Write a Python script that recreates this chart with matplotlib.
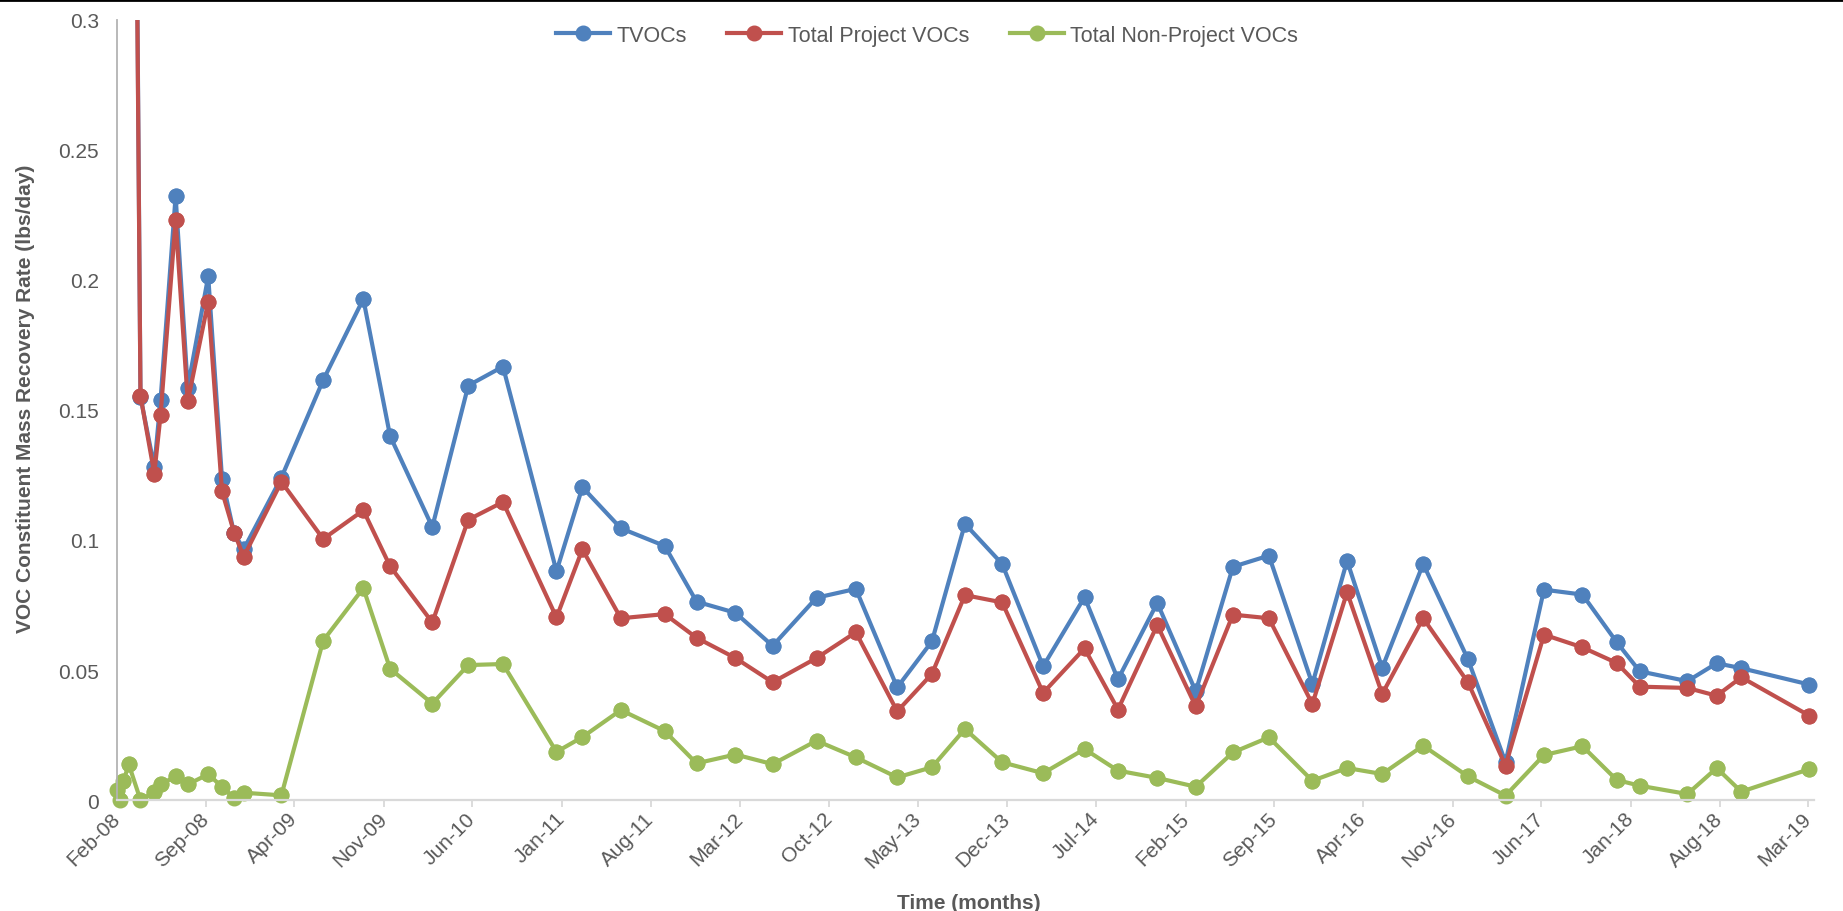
import numpy as np
import pandas as pd
import matplotlib
matplotlib.use('Agg')
import matplotlib.pyplot as plt
import matplotlib.dates as mdates
from matplotlib.lines import Line2D

plt.rcParams['font.family'] = ['Liberation Sans', 'DejaVu Sans']

# sample dates
DATES = [
    '2008-02-01', '2008-02-09', '2008-02-17', '2008-03-01', '2008-03-29',
    '2008-05-01', '2008-05-16', '2008-06-21', '2008-07-20', '2008-09-07',
    '2008-10-10', '2008-11-08', '2008-12-01', '2009-03-01', '2009-06-09',
    '2009-09-13', '2009-11-16', '2010-02-25', '2010-05-22', '2010-08-13',
    '2010-12-19', '2011-02-19', '2011-05-22', '2011-09-04', '2011-11-19',
    '2012-02-20', '2012-05-19', '2012-09-01', '2012-12-04', '2013-03-13',
    '2013-06-04', '2013-08-22', '2013-11-19', '2014-02-25', '2014-06-04',
    '2014-08-23', '2014-11-25', '2015-02-25', '2015-05-25', '2015-08-19',
    '2015-12-01', '2016-02-22', '2016-05-16', '2016-08-22', '2016-12-07',
    '2017-03-07', '2017-06-07', '2017-09-07', '2017-11-28', '2018-01-22',
    '2018-05-16', '2018-07-25', '2018-09-22', '2019-03-04',
]

# lbs/day, nan = above the visible range and not readable
TVOCS = [
    np.nan, np.nan, np.nan, 0.72, 0.155,
    0.128, 0.1539, 0.2323, 0.1586, 0.2014,
    0.1235, 0.1025, 0.0965, 0.124, 0.1615,
    0.1927, 0.140, 0.105, 0.1594, 0.1667,
    0.088, 0.1203, 0.1045, 0.0977, 0.0763,
    0.072, 0.0593, 0.0778, 0.0812, 0.0433,
    0.061, 0.1062, 0.0908, 0.0514, 0.078,
    0.0464, 0.0758, 0.0418, 0.0897, 0.094,
    0.0446, 0.092, 0.0508, 0.0908, 0.0542,
    0.0145, 0.0809, 0.079, 0.0607, 0.0495,
    0.0457, 0.0526, 0.0507, 0.0444,
]

PROJECT = [
    np.nan, np.nan, np.nan, 0.70, 0.1555,
    0.1255, 0.148, 0.2232, 0.1533, 0.1917,
    0.1187, 0.1028, 0.0936, 0.1224, 0.1004,
    0.1114, 0.0899, 0.0683, 0.1078, 0.1146,
    0.0702, 0.0964, 0.0699, 0.0715, 0.0624,
    0.0546, 0.0453, 0.0546, 0.0645, 0.0341,
    0.0485, 0.0788, 0.076, 0.0412, 0.0583,
    0.0348, 0.0673, 0.036, 0.0713, 0.0699,
    0.0369, 0.0799, 0.0408, 0.0699, 0.0453,
    0.0132, 0.0636, 0.0587, 0.0527, 0.0436,
    0.0431, 0.0401, 0.0472, 0.0324,
]

NON_PROJECT = [
    0.0039, 0.0, 0.0072, 0.0137, 0.0,
    0.0031, 0.006, 0.0091, 0.006, 0.0099,
    0.0051, 0.0007, 0.0028, 0.0018, 0.0613,
    0.0815, 0.0505, 0.0371, 0.0519, 0.0523,
    0.0185, 0.0242, 0.0346, 0.0265, 0.0141,
    0.0175, 0.0138, 0.0228, 0.0164, 0.0087,
    0.0126, 0.0273, 0.0145, 0.0103, 0.0196,
    0.0113, 0.0085, 0.0051, 0.0183, 0.0241,
    0.0074, 0.0123, 0.010, 0.0209, 0.0091,
    0.0017, 0.0173, 0.0207, 0.0077, 0.0055,
    0.0023, 0.0123, 0.0032, 0.0119,
]

SERIES = [
    ('TVOCs', TVOCS, '#4F81BD'),
    ('Total Project VOCs', PROJECT, '#C0504D'),
    ('Total Non-Project VOCs', NON_PROJECT, '#9BBB59'),
]

YMAX = 0.3
dates = pd.to_datetime(DATES)

fig = plt.figure(figsize=(18.43, 9.12), dpi=100)
ax = fig.add_axes([0.0633, 0.1217, 0.9210, 0.8553])

for name, vals, col in SERIES:
    vals = np.array(vals, dtype=float)
    ax.plot(dates, vals, color=col, lw=3.0, marker='o', ms=10.5,
            label=name, solid_joinstyle='round')
    # markers sitting on the axis are not cut in half
    inside = np.where(vals <= YMAX, vals, np.nan)
    ax.plot(dates, inside, ls='none', marker='o', ms=10.5, color=col,
            clip_on=False)

ax.set_ylim(0, YMAX)
ax.set_xlim(pd.Timestamp('2008-02-01'), pd.Timestamp('2019-03-15'))
ax.set_yticks([0, 0.05, 0.1, 0.15, 0.2, 0.25, 0.3])
ax.set_yticklabels(['0', '0.05', '0.1', '0.15', '0.2', '0.25', '0.3'])

ticks = pd.date_range('2008-02-01', '2019-03-01', freq='7MS')
ax.set_xticks(ticks)
ax.xaxis.set_major_formatter(mdates.DateFormatter('%b-%y'))
for lab in ax.get_xticklabels():
    lab.set_rotation(45)
    lab.set_ha('right')
    lab.set_va('center')
    lab.set_rotation_mode('anchor')

ax.tick_params(axis='x', length=5, width=1.3, color='#d9d9d9',
               labelsize=15, labelcolor='#595959', pad=6)
ax.tick_params(axis='y', length=0, labelsize=15, labelcolor='#595959',
               pad=12.7)

for s in ['top', 'right']:
    ax.spines[s].set_visible(False)
ax.spines['left'].set_color('#b3b3b3')
ax.spines['left'].set_linewidth(1.3)
ax.spines['bottom'].set_color('#d9d9d9')
ax.spines['bottom'].set_linewidth(1.6)

ax.set_ylabel('VOC Constituent Mass Recovery Rate (lbs/day)', fontsize=15,
              fontweight='bold', color='#595959')
ax.yaxis.set_label_coords(-0.048, 0.516)
ax.set_xlabel('Time (months)', fontsize=15, fontweight='bold',
              color='#595959')
ax.xaxis.set_label_coords(0.502, -0.119)

fig.legend(loc='upper center', bbox_to_anchor=(0.503, 0.993), ncol=3,
           frameon=False, fontsize=15.5, handlelength=2.5, handletextpad=0.3,
           columnspacing=1.9, labelcolor='#595959')

# thin dark rule along the top edge of the picture
fig.add_artist(Line2D([0, 1], [0.999, 0.999], transform=fig.transFigure,
                      color='black', lw=2))

fig.savefig('out.png', dpi=100)
